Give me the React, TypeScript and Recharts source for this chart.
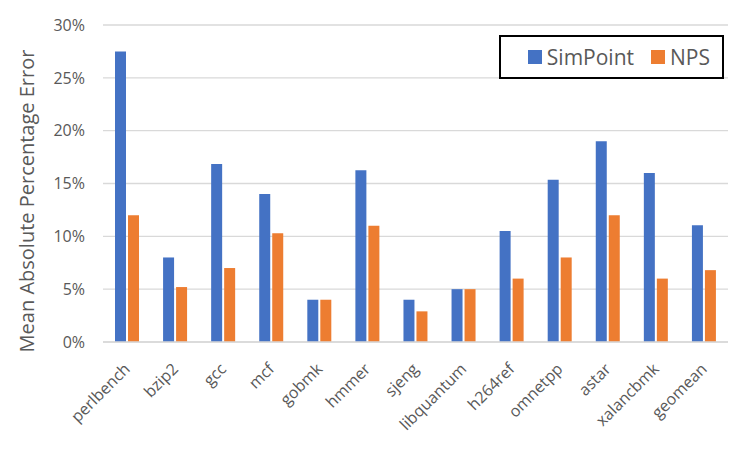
import React from 'react';
import {
    BarChart,
    Bar,
    XAxis,
    YAxis,
    CartesianGrid,
    Legend
} from 'recharts';

// benchmark names on the x axis
const benchmarks = [
    'perlbench', 'bzip2', 'gcc', 'mcf', 'gobmk', 'hmmer', 'sjeng',
    'libquantum', 'h264ref', 'omnetpp', 'astar', 'xalancbmk', 'geomean'
];

// mean absolute percentage error, in %
const simPoint = [27.5, 8.0, 16.85, 14.0, 4.0, 16.25, 4.0, 5.0, 10.5, 15.35, 19.0, 16.0, 11.05];
const nps = [12.0, 5.2, 7.0, 10.3, 4.0, 11.0, 2.9, 5.0, 6.0, 8.0, 12.0, 6.0, 6.8];

const yTicks = [0, 5, 10, 15, 20, 25, 30];

const seriesNames = ['SimPoint', 'NPS'];
const seriesColors = ['#4472C4', '#ED7D31'];

const FONT = '"Open Sans", sans-serif';
const TEXT = '#595959';

const data = benchmarks.map((name, i) => ({
    name,
    simPoint: simPoint[i],
    nps: nps[i]
}));

const AngledTick = ({ x, y, payload }: any) => (
    <text
        transform={`translate(${x + 4},${y + 20}) rotate(-45)`}
        textAnchor="end"
        fontFamily={FONT}
        fontSize={16}
        fill={TEXT}
    >
        {payload.value}
    </text>
);

const LegendBox = () => (
    <div
        style={{
            width: '100%',
            height: '100%',
            boxSizing: 'border-box',
            border: '2px solid #000',
            display: 'flex',
            alignItems: 'center',
            justifyContent: 'flex-end',
            paddingRight: 12,
            fontFamily: FONT,
            fontSize: 21,
            color: TEXT
        }}
    >
        {seriesNames.map((n, i) => (
            <div key={n} style={{ display: 'flex', alignItems: 'center', marginLeft: i ? 17 : 0 }}>
                <div style={{ width: 14, height: 14, background: seriesColors[i], marginRight: 5 }} />
                <span>{n}</span>
            </div>
        ))}
    </div>
);

export default function App() {
    return (
        <div style={{ position: 'absolute', left: 0, top: 0, width: 752, height: 452, background: '#fff' }}>
            <BarChart
                width={752}
                height={452}
                data={data}
                margin={{ top: 25, right: 24, left: 0, bottom: 0 }}
                barSize={11}
                barGap={2}
            >
                <CartesianGrid vertical={false} stroke="#d9d9d9" strokeWidth={1.3} />
                <XAxis
                    dataKey="name"
                    height={110}
                    interval={0}
                    tickLine={false}
                    axisLine={{ stroke: '#d9d9d9', strokeWidth: 1.3 }}
                    tick={<AngledTick />}
                />
                <YAxis
                    width={103}
                    domain={[0, 30]}
                    ticks={yTicks}
                    tickFormatter={(v: number) => `${v}%`}
                    tickLine={false}
                    axisLine={false}
                    tickMargin={12}
                    tick={{ fontFamily: FONT, fontSize: 16, fill: TEXT }}
                    label={{
                        value: 'Mean Absolute Percentage Error',
                        angle: -90,
                        position: 'insideLeft',
                        content: () => (
                            <text
                                transform="translate(34,201) rotate(-90)"
                                textAnchor="middle"
                                fontFamily={FONT}
                                fontSize={20}
                                fill={TEXT}
                            >
                                Mean Absolute Percentage Error
                            </text>
                        )
                    }}
                />
                <Legend
                    layout="horizontal"
                    verticalAlign="middle"
                    align="center"
                    wrapperStyle={{ top: 35, left: 499, width: 225, height: 44 }}
                    content={<LegendBox />}
                />
                <Bar dataKey="simPoint" name="SimPoint" fill={seriesColors[0]} isAnimationActive={false} />
                <Bar dataKey="nps" name="NPS" fill={seriesColors[1]} isAnimationActive={false} />
            </BarChart>
        </div>
    );
}
